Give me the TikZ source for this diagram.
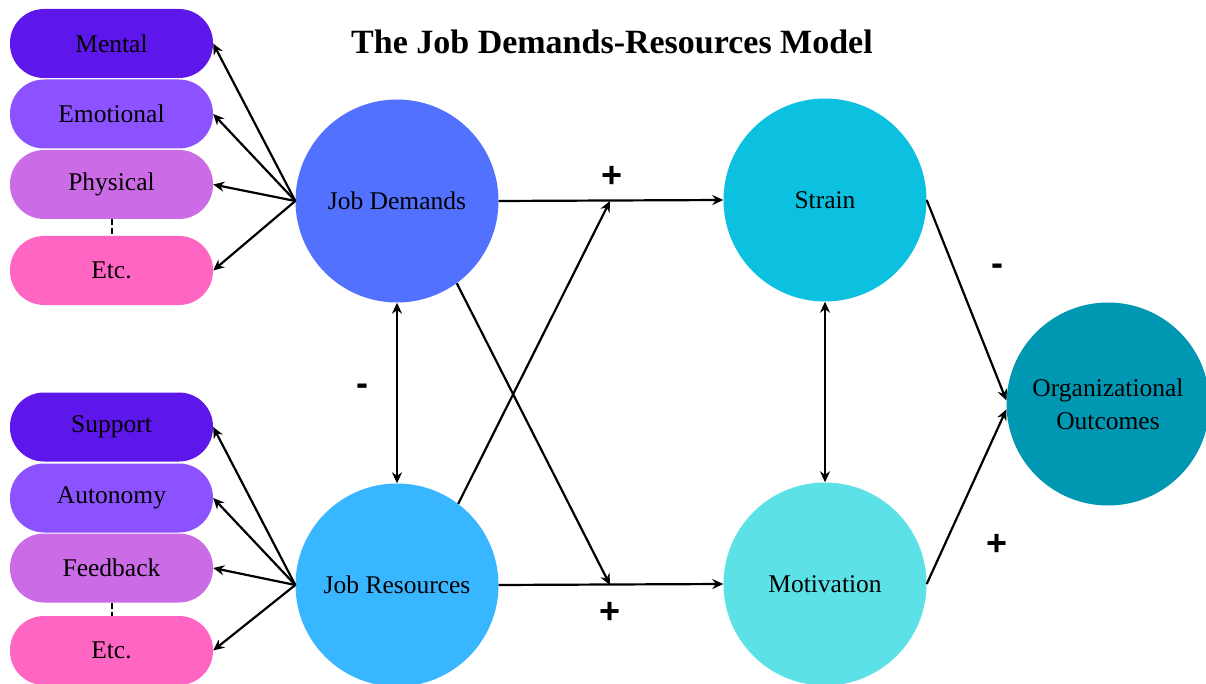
\documentclass[tikz,border=0pt]{standalone}
\usepackage{fontspec}
\setmainfont{Liberation Serif}
\newfontfamily\signfont{Liberation Sans}
\usetikzlibrary{arrows.meta}

\definecolor{cMental}{HTML}{5E17EB}
\definecolor{cEmotion}{HTML}{8C52FF}
\definecolor{cPhys}{HTML}{CB6CE6}
\definecolor{cEtc}{HTML}{FF66C4}
\definecolor{cDemand}{HTML}{5271FF}
\definecolor{cRes}{HTML}{38B6FF}
\definecolor{cStrain}{HTML}{0CC0DF}
\definecolor{cMotiv}{HTML}{5CE1E6}
\definecolor{cOut}{HTML}{0097B2}

\tikzset{
  pill/.style={rectangle, rounded corners=34pt, minimum width=203pt,
    minimum height=69pt, inner sep=0pt, text=black,
    font=\fontsize{25.5}{30}\selectfont},
  bubble/.style={circle, minimum size=203pt, inner sep=0pt, text=black,
    align=center, font=\fontsize{25.5}{33}\selectfont},
  tipstyle/.style={line width=2.2pt},
  link/.style={tipstyle, -{Stealth[length=11pt,width=10pt]}},
  twoway/.style={tipstyle, {Stealth[length=11pt,width=10pt]}-{Stealth[length=11pt,width=10pt]}},
  gap/.style={line width=2pt, dash pattern=on 6pt off 3pt},
  sign/.style={font=\signfont\bfseries\fontsize{36}{36}\selectfont},
}

\begin{document}
\begin{tikzpicture}[x=1pt,y=-1pt]
\useasboundingbox (0,0) rectangle (1206,684);

% title
\node[font=\bfseries\fontsize{34}{40}\selectfont] (title) at (612,42) {The Job Demands-Resources Model};

% demand categories
\node[pill, fill=cMental]  (mental)  at (111.5,43.5)  {Mental};
\node[pill, fill=cEmotion] (emotion) at (111.5,114)   {Emotional};
\node[pill, fill=cPhys]    (phys)    at (111.5,184.5) {Physical};
\node[pill, fill=cEtc]     (etcA)    at (111.5,270.5) {Etc.};

% resource categories
\node[pill, fill=cMental]  (support)  at (111.5,427)   {Support};
\node[pill, fill=cEmotion] (autonomy) at (111.5,498)   {Autonomy};
\node[pill, fill=cPhys]    (feedback) at (111.5,568)   {Feedback};
\node[pill, fill=cEtc]     (etcB)     at (111.5,650.5) {Etc.};

% main constructs
\node[bubble, fill=cDemand] (jd)  at (397,201) {Job Demands};
\node[bubble, fill=cRes]    (jr)  at (397,585) {Job Resources};
\node[bubble, fill=cStrain] (st)  at (825,200) {Strain};
\node[bubble, fill=cMotiv]  (mo)  at (825,584) {Motivation};
\node[bubble, fill=cOut]    (oo)  at (1108,404) {Organizational\\Outcomes};

% junction points on the horizontal paths
\coordinate (jtop) at (610,201);
\coordinate (jbot) at (610,585);

% fan-out to categories
\draw[link] (jd.west) -- (mental.east);
\draw[link] (jd.west) -- (emotion.east);
\draw[link] (jd.west) -- (phys.east);
\draw[link] (jd.west) -- (etcA.east);
\draw[link] (jr.west) -- (support.east);
\draw[link] (jr.west) -- (autonomy.east);
\draw[link] (jr.west) -- (feedback.east);
\draw[link] (jr.west) -- (etcB.east);

% continuation markers
\draw[gap] (phys.south) -- (etcA.north);
\draw[gap] (feedback.south) -- (etcB.north);

% main paths
\draw[link] (jd.east) -- (st.west);
\draw[link] (jr.east) -- (mo.west);
\draw[link] (jd.-54) -- (jbot);
\draw[link] (jr.53) -- (jtop);
\draw[twoway] (jd.south) -- (jr.north);
\draw[twoway] (st.south) -- (mo.north);
\draw[link] (st.east) -- (oo.178);
\draw[link] (mo.east) -- (oo.183);

% signs
\node[sign] (pA) at (612,177) {+};
\node[sign] (pB) at (610,613) {+};
\node[sign] (mA) at (362,390) {-};
\node[sign] (mB) at (997,270) {-};
\node[sign] (pC) at (997,545) {+};
\end{tikzpicture}
\end{document}
